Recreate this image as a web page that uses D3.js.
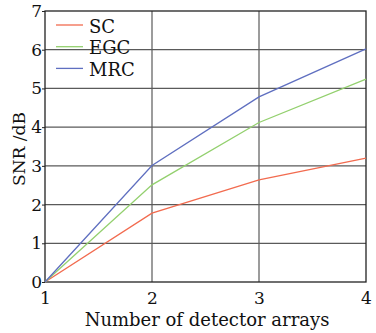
<!doctype html>
<html>
<head>
<meta charset="utf-8"/>
<script src="https://d3js.org/d3.v7.min.js"></script>
<style>
body { margin:0; background:#fff; }
</style>
</head>
<body>
<script>
// data
var arrays = [1, 2, 3, 4];
var scVals  = [0, 1.78, 2.64, 3.20];
var egcVals = [0, 2.51, 4.12, 5.24];
var mrcVals = [0, 3.01, 4.78, 6.02];
var names  = ["SC", "EGC", "MRC"];
var colors = ["#f26b4f", "#93d06e", "#5f6fc0"];
var yTicks = [0, 1, 2, 3, 4, 5, 6, 7];

var FONT = "'DejaVu Serif', 'Liberation Serif', serif";
var W = 376, H = 333;
var m = {l:45, t:11, r:10, b:51};

var svg = d3.select("body").append("svg")
    .attr("width", W).attr("height", H)
    .style("font-family", FONT);

var x = d3.scaleLinear().domain([1, 4]).range([m.l, W - m.r]);
var y = d3.scaleLinear().domain([0, 7]).range([H - m.b, m.t]);

// grid
svg.append("g").selectAll("line").data(yTicks.slice(1, -1)).enter().append("line")
  .attr("x1", m.l).attr("x2", W - m.r)
  .attr("y1", function(d){ return y(d); }).attr("y2", function(d){ return y(d); })
  .attr("stroke", "#5a5a5a").attr("stroke-width", 1.2);
svg.append("g").selectAll("line").data(arrays.slice(1, -1)).enter().append("line")
  .attr("y1", m.t).attr("y2", H - m.b)
  .attr("x1", function(d){ return x(d); }).attr("x2", function(d){ return x(d); })
  .attr("stroke", "#5a5a5a").attr("stroke-width", 1.2);

// axes
var xa = svg.append("g").attr("transform", "translate(0," + (H - m.b) + ")")
  .call(d3.axisBottom(x).tickValues(arrays).tickFormat(d3.format("d")).tickSize(0).tickPadding(10));
var ya = svg.append("g").attr("transform", "translate(" + m.l + ",0)")
  .call(d3.axisLeft(y).tickValues(yTicks).tickFormat(d3.format("d")).tickSize(3).tickPadding(0));
[xa, ya].forEach(function(a){
  a.attr("font-family", null).attr("font-size", null);
  a.select(".domain").remove();
  a.selectAll("text").style("font-size", "17px").style("font-family", FONT).attr("fill", "#111");
  a.selectAll("line").attr("stroke", "#222");
});

// frame
svg.append("rect").attr("x", m.l).attr("y", m.t)
  .attr("width", W - m.r - m.l).attr("height", H - m.b - m.t)
  .attr("fill", "none").attr("stroke", "#222").attr("stroke-width", 1.3);

// lines
var series = [scVals, egcVals, mrcVals];
var line = d3.line().x(function(d, i){ return x(arrays[i]); }).y(function(d){ return y(d); });
series.forEach(function(s, k){
  svg.append("path").attr("d", line(s)).attr("fill", "none")
    .attr("stroke", colors[k]).attr("stroke-width", 1.3);
});

// legend
names.forEach(function(n, k){
  var ly = 25 + k * 21.7;
  svg.append("line").attr("x1", 56).attr("x2", 83).attr("y1", ly).attr("y2", ly)
    .attr("stroke", colors[k]).attr("stroke-width", 1.3);
  svg.append("text").attr("x", 89).attr("y", ly + 7.5).text(n)
    .style("font-size", "18px").attr("fill", "#111");
});

// titles
svg.append("text").attr("x", 207).attr("y", 326)
  .attr("text-anchor", "middle").style("font-size", "18px").attr("fill", "#111")
  .text("Number of detector arrays");
svg.append("text").attr("transform", "translate(25,149) rotate(-90)")
  .attr("text-anchor", "middle").style("font-size", "17px").attr("fill", "#111")
  .text("SNR /dB");
</script>
</body>
</html>
